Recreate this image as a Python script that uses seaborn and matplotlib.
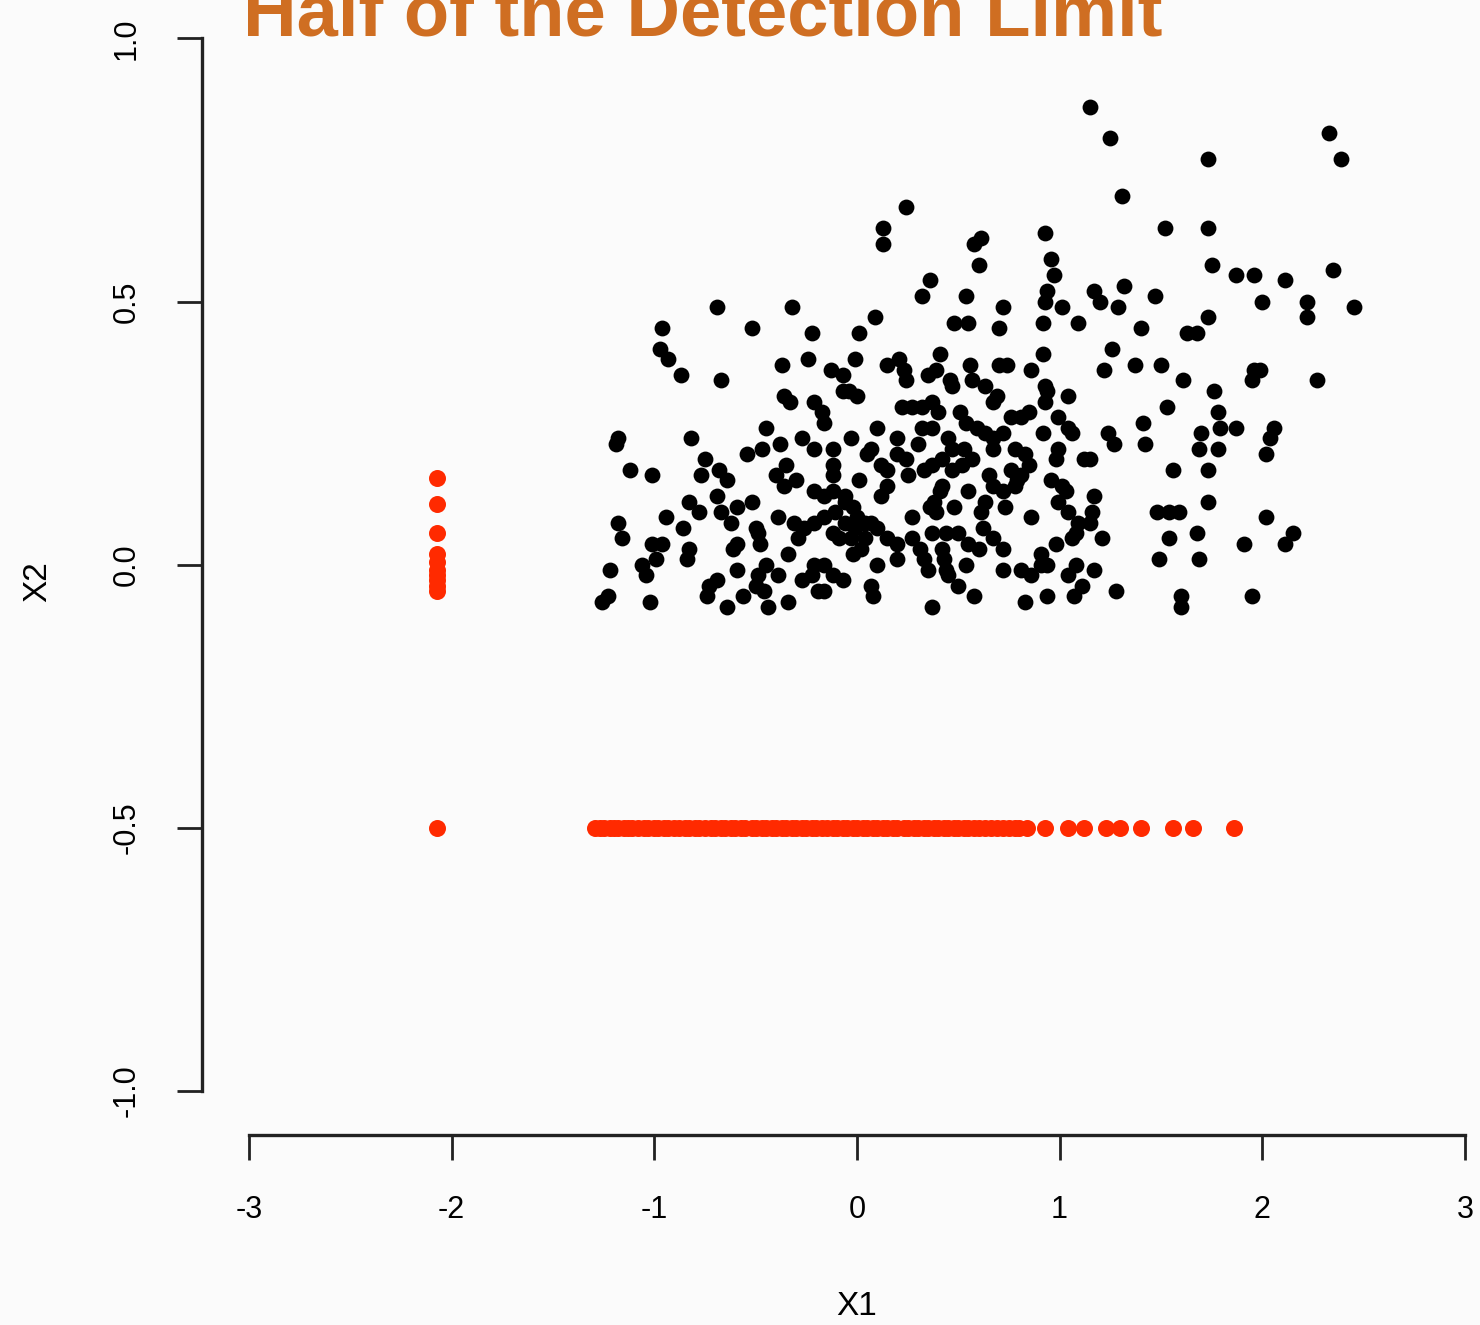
import numpy as np
import pandas as pd
import seaborn as sns
import matplotlib
matplotlib.use("Agg")
import matplotlib.pyplot as plt

# ===== data =====
# observed points (black)
obs_x1 = [1.15, 1.25, 2.33, 2.39, 1.73, 1.31, 0.24, 0.13, 0.13, 0.61, 0.58, 0.93, 1.52, 1.73, 0.96, 0.60,
          1.75, 1.87, 1.96, 2.11, 2.35, 0.36, 0.97, 1.17, 1.20, 1.32, 1.47, 2.45, 2.00, 2.22, 2.22, 0.32,
          0.54, 0.93, 1.01, 1.29, 0.72, -0.69, -0.32, 0.09, 1.09, 0.92, 0.48, 0.55, -0.96, -0.52, 1.73, 1.40,
          0.70, 0.01, -0.22, 1.63, 1.68, -0.97, -0.93, -0.87, -0.67, 1.26, 1.50, 1.22, 1.96, 1.99, 2.27, 1.61,
          1.76, 0.94,
          1.37, 1.95, 1.78, 1.53, 1.41, 1.42, 1.24, 1.27, 1.70, 1.79, 1.87, 1.69, 1.78, 2.06, 2.04, 2.02,
          1.56, 1.73, 1.73, 1.48, 1.54, 1.59, 2.02, 1.68, 1.54, 2.15, 2.11, 1.91, 1.49, 1.69, 1.28, 1.60,
          1.60, 1.95,
          -0.37, -0.24, -0.13, -0.07, -0.36, -0.33, -0.21, -0.17, -0.16, -0.07, -0.45, -0.47, -0.54, -0.38,
          -0.27, -0.21, -0.12, -1.19, -1.18, -0.82, -0.75, -0.77, -1.12, -1.01, -0.68, -0.64, -0.35, -0.40,
          -0.36, -0.30, -0.12, -0.12, -0.21, -0.16, -0.12, -0.06, -0.69, -0.67, -0.59, -0.52, -0.83, -0.78,
          -0.94, -0.86, -0.62, -1.18, -1.16, -1.01, -0.96, -0.83, -0.84, -0.61, -0.59, -0.50, -0.49, -0.48,
          -0.39, -0.31, -0.26, -0.29, -0.21, -0.16, -0.12, -0.09, -0.34, -0.45, -1.06, -1.04, -0.99, -1.22,
          -0.59, -0.39, -0.49, -0.21, -0.16, -0.22, -0.12, -0.27, -0.69, -0.73, -0.74, -1.23, -1.26, -1.02,
          -0.64, -0.56, -0.50, -0.46, -0.44, -0.34, -0.19, -0.16, -0.07, -0.11, -0.06, -0.03,
          -0.01, 0.15, 0.21, 0.23, 0.24, 0.41, 0.35, 0.39, 0.46, 0.47, 0.56, 0.57, 0.63, 0.70, 0.74, 0.86,
          0.92, 0.93, 0.94, 0.93, 1.04, 0.00, -0.04, 0.22, 0.27, 0.32, 0.37, 0.40, 0.51, 0.54, 0.59, 0.63,
          0.67, 0.69, 0.76, 0.81, 0.85, 0.99, 1.04, 1.06, 0.10, -0.03, 0.32, 0.37, 0.20, 0.20, 0.24, 0.30,
          0.45, 0.47, 0.53, 0.57, 0.52, 0.47, 0.67, 0.67, 0.72, 0.78, 0.83, 0.85, 0.81, 0.76, 0.92, 0.99,
          0.98, 1.12, 1.15, 0.05, 0.07, 0.12, 0.15, 0.15, 0.12, 0.01, 0.25, 0.33, 0.37, 0.42, 0.42, 0.41,
          0.38, 0.36, 0.39, 0.55, 0.65, 0.67, 0.63, 0.61, 0.72, 0.73, 0.78, 0.79, 0.96, 1.01, 1.03, 0.99,
          1.04, 1.17, 1.16, 1.15, -0.06, -0.02, 0.00, 0.04, 0.07, 0.10, -0.01, 0.04, 0.02, -0.02, 0.48, 0.27,
          0.86, 0.15, 0.20, 0.27, 0.31, 0.33, 0.20, 0.37, 0.44, 0.50, 0.55, 0.60, 0.62, 0.67, 0.72, 0.42,
          0.43, 0.44, 0.45, 0.54, 0.35, 0.10, 0.72, 0.81, 0.86, 0.91, 0.91, 0.94, 0.98, 1.08, 1.09, 1.06,
          1.08, 1.04, 1.17, 1.21, 1.11, 1.07, 0.07, 0.08, 0.50, 0.58, 0.37, 0.83, 0.94]
obs_x2 = [0.87, 0.81, 0.82, 0.77, 0.77, 0.70, 0.68, 0.64, 0.61, 0.62, 0.61, 0.63, 0.64, 0.64, 0.58, 0.57,
          0.57, 0.55, 0.55, 0.54, 0.56, 0.54, 0.55, 0.52, 0.50, 0.53, 0.51, 0.49, 0.50, 0.50, 0.47, 0.51,
          0.51, 0.50, 0.49, 0.49, 0.49, 0.49, 0.49, 0.47, 0.46, 0.46, 0.46, 0.46, 0.45, 0.45, 0.47, 0.45,
          0.45, 0.44, 0.44, 0.44, 0.44, 0.41, 0.39, 0.36, 0.35, 0.41, 0.38, 0.37, 0.37, 0.37, 0.35, 0.35,
          0.33, 0.52,
          0.38, 0.35, 0.29, 0.30, 0.27, 0.23, 0.25, 0.23, 0.25, 0.26, 0.26, 0.22, 0.22, 0.26, 0.24, 0.21,
          0.18, 0.18, 0.12, 0.10, 0.10, 0.10, 0.09, 0.06, 0.05, 0.06, 0.04, 0.04, 0.01, 0.01, -0.05, -0.06,
          -0.08, -0.06,
          0.38, 0.39, 0.37, 0.36, 0.32, 0.31, 0.31, 0.29, 0.27, 0.33, 0.26, 0.22, 0.21, 0.23,
          0.24, 0.22, 0.22, 0.23, 0.24, 0.24, 0.20, 0.17, 0.18, 0.17, 0.18, 0.16, 0.19, 0.17,
          0.15, 0.16, 0.19, 0.17, 0.14, 0.13, 0.14, 0.12, 0.13, 0.10, 0.11, 0.12, 0.12, 0.10,
          0.09, 0.07, 0.08, 0.08, 0.05, 0.04, 0.04, 0.03, 0.01, 0.03, 0.04, 0.07, 0.06, 0.04,
          0.09, 0.08, 0.07, 0.05, 0.08, 0.09, 0.06, 0.05, 0.02, 0.00, 0.00, -0.02, 0.01, -0.01,
          -0.01, -0.02, -0.02, 0.00, 0.00, -0.02, -0.02, -0.03, -0.03, -0.04, -0.06, -0.06, -0.07, -0.07,
          -0.08, -0.06, -0.04, -0.05, -0.08, -0.07, -0.05, -0.05, -0.03, 0.10, 0.08, 0.05,
          0.39, 0.38, 0.39, 0.37, 0.35, 0.40, 0.36, 0.37, 0.35, 0.34, 0.38, 0.35, 0.34, 0.38, 0.38, 0.37,
          0.40, 0.34, 0.33, 0.31, 0.32, 0.32, 0.33, 0.30, 0.30, 0.30, 0.31, 0.29, 0.29, 0.27, 0.26, 0.25,
          0.31, 0.32, 0.28, 0.28, 0.29, 0.28, 0.26, 0.25, 0.26, 0.24, 0.26, 0.26, 0.24, 0.21, 0.20, 0.23,
          0.24, 0.22, 0.22, 0.20, 0.19, 0.18, 0.24, 0.22, 0.25, 0.22, 0.21, 0.19, 0.17, 0.18, 0.25, 0.22,
          0.20, 0.20, 0.20, 0.21, 0.22, 0.19, 0.18, 0.15, 0.13, 0.16, 0.17, 0.18, 0.19, 0.20, 0.15, 0.14,
          0.12, 0.11, 0.10, 0.14, 0.17, 0.15, 0.12, 0.10, 0.14, 0.11, 0.15, 0.16, 0.16, 0.15, 0.14, 0.12,
          0.10, 0.13, 0.10, 0.08, 0.13, 0.11, 0.09, 0.08, 0.08, 0.07, 0.07, 0.05, 0.03, 0.02, 0.11, 0.09,
          0.09, 0.05, 0.04, 0.05, 0.03, 0.01, 0.01, 0.06, 0.06, 0.06, 0.04, 0.03, 0.07, 0.05, 0.03, 0.03,
          0.01, -0.01, -0.02, 0.00, -0.01, 0.00, -0.01, -0.01, -0.02, 0.00, 0.02, 0.00, 0.04, 0.06, 0.08, 0.05,
          0.00, -0.02, -0.01, 0.05, -0.04, -0.06, -0.04, -0.06, -0.04, -0.06, -0.08, -0.07, -0.06]

# values below the detection limit, replaced by half of it (red)
dl_x1 = -2.07
dl_x2 = -0.5
cens_col_x2 = [0.165, 0.115, 0.06, 0.02, 0.005, -0.01, -0.02, -0.03, -0.04, -0.05, -0.5]
cens_row_x1 = [-1.29, -1.27, -1.25, -1.22, -1.20, -1.18, -1.15, -1.13, -1.11, -1.08, -1.05, -1.03, -1.00,
               -0.98, -0.95, -0.93, -0.90, -0.88, -0.85, -0.83, -0.80, -0.78, -0.75, -0.72, -0.70, -0.67,
               -0.65, -0.62, -0.60, -0.57, -0.55, -0.52, -0.50, -0.47, -0.45, -0.42, -0.40, -0.37, -0.35,
               -0.32, -0.30, -0.27, -0.25, -0.22, -0.20, -0.17, -0.15, -0.12, -0.10, -0.07, -0.05, -0.02,
               0.00, 0.03, 0.05, 0.08, 0.10, 0.13, 0.15, 0.18, 0.20, 0.23, 0.25, 0.28, 0.30, 0.33, 0.35,
               0.38, 0.40, 0.43, 0.45, 0.48, 0.50, 0.53, 0.55, 0.58, 0.60, 0.63, 0.66, 0.69, 0.72, 0.75,
               0.78, 0.80, 0.84, 0.93, 1.04, 1.12, 1.23, 1.30, 1.40, 1.56, 1.66, 1.86]

x_ticks = [-3, -2, -1, 0, 1, 2, 3]
y_ticks = [-1.0, -0.5, 0.0, 0.5, 1.0]
y_ticklabels = ["-1.0", "-0.5", "0.0", "0.5", "1.0"]

# ===== frame =====
obs = pd.DataFrame({"X1": obs_x1, "X2": obs_x2})
col = pd.DataFrame({"X1": [dl_x1] * len(cens_col_x2), "X2": cens_col_x2})
row = pd.DataFrame({"X1": cens_row_x1, "X2": [dl_x2] * len(cens_row_x1)})
censored = pd.concat([col, row], ignore_index=True)

sns.set_style("white")
plt.rcParams["font.family"] = ["Liberation Sans", "DejaVu Sans"]
plt.rcParams["text.color"] = "black"
plt.rcParams["axes.labelcolor"] = "black"
plt.rcParams["xtick.color"] = "black"
plt.rcParams["ytick.color"] = "black"

bg = "#fbfbfb"
fig = plt.figure(figsize=(14.8, 13.25), dpi=100, facecolor=bg)
ax = fig.add_axes([0.1476, 0.1434, 0.8491, 0.8356])
ax.set_facecolor(bg)

sns.scatterplot(data=obs, x="X1", y="X2", color="black", s=130, linewidth=0, ax=ax)
sns.scatterplot(data=censored, x="X1", y="X2", color="#ff2a00", s=150, linewidth=0, ax=ax)

x_lo, x_hi = -3.15, 3.05
ax.set_xlim(x_lo, x_hi)
ax.set_ylim(-1.0836, 1.02)

for side in ["top", "right"]:
    ax.spines[side].set_visible(False)
ax.spines["left"].set_position(("outward", 12))
ax.spines["left"].set_bounds(-1, 1)
ax.spines["bottom"].set_bounds(-3, 3)
for side in ["left", "bottom"]:
    ax.spines[side].set_linewidth(2.4)
    ax.spines[side].set_color("#222222")

ax.set_xticks(x_ticks)
ax.set_xticklabels([str(t) for t in x_ticks])
ax.set_yticks(y_ticks)
ax.set_yticklabels(y_ticklabels, rotation=90, va="center")
ax.tick_params(axis="both", direction="out", length=18, width=2.0, color="#222222",
               labelsize=22, pad=25, left=True, bottom=True)

# R centres the axis label on the [-3, 3] range, not on the padded limits
ax.set_xlabel("X1", fontsize=24)
ax.xaxis.set_label_coords((0 - x_lo) / (x_hi - x_lo), -0.141)
ax.set_ylabel("X2", fontsize=24, labelpad=42)

fig.text(243 / 1480, 1 - 36 / 1325, "Half of the Detection Limit", fontsize=53.5,
         fontweight="bold", color="#cf6e22", ha="left", va="baseline")

fig.savefig("out.png", dpi=100, facecolor=bg)
